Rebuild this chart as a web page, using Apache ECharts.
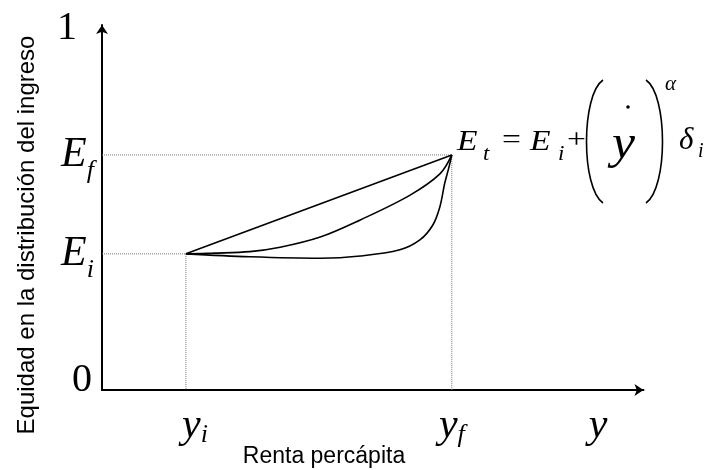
<!DOCTYPE html>
<html>
<head>
<meta charset="utf-8">
<style>html,body{margin:0;padding:0;background:#fff;}#c{width:712px;height:470px;}</style>
<script src="https://cdn.jsdelivr.net/npm/echarts@6/dist/echarts.min.js"></script>
</head>
<body>
<div id="c"></div>
<script>
// ---- data ----
var Ei = 0.373, Ef = 0.644;      // equity levels (initial, final)
var yi = 1.55, yf = 6.46;        // per-capita income (initial, final)
var yLabelPos = 9.16;            // position of generic "y" label on x axis

var straightX = [1.55, 6.46];
var straightY = [0.373, 0.644];
var middleX = [1.55, 2.05, 2.73, 3.29, 4.03, 4.77, 5.69, 6.24, 6.46];
var middleY = [0.373, 0.375, 0.379, 0.391, 0.419, 0.466, 0.534, 0.592, 0.644];
var bottomX = [1.55, 2.73, 4.03, 4.77, 5.50, 5.87, 6.11, 6.24, 6.33, 6.41, 6.46];
var bottomY = [0.373, 0.365, 0.361, 0.367, 0.384, 0.411, 0.452, 0.502, 0.567, 0.612, 0.644];

var yTickValues = [0, Ei, Ef, 1];
var yTickMain = ['0', 'E', 'E', '1'];
var yTickSub = ['', 'i', 'f', ''];
var xTickValues = [yi, yf, yLabelPos];
var xTickMain = ['y', 'y', 'y'];
var xTickSub = ['i', 'f', ''];

var yTitle = 'Equidad en la distribución del ingreso';
var xTitle = 'Renta percápita';

function zip(a, b) { return a.map(function (v, i) { return [v, b[i]]; }); }
function findIdx(arr, v) { var best = 0; for (var i = 0; i < arr.length; i++) { if (Math.abs(arr[i] - v) < Math.abs(arr[best] - v)) best = i; } return best; }

var SERIF = '"Liberation Serif", "Times New Roman", serif';
var SANS = '"Liberation Sans", Arial, sans-serif';

var chart = echarts.init(document.getElementById('c'), null, { renderer: 'canvas' });

var dotted = { color: '#777', width: 1, type: [1, 1] };
var curve = { color: '#000', width: 1.6 };

function ftext(x, y, txt, size, italic, sx) {
  return { type: 'text', x: x, y: y, scaleX: sx || 1,
    style: { text: txt, fontFamily: SERIF, fontSize: size, fontStyle: italic ? 'italic' : 'normal',
      fill: '#000', textAlign: 'left', textVerticalAlign: 'middle' } };
}

var option = {
  backgroundColor: '#fff',
  animation: false,
  grid: { left: 102, right: 68.5, top: 25, bottom: 80 },
  xAxis: {
    type: 'value', min: 0, max: 10,
    splitLine: { show: false },
    axisTick: { show: false },
    axisLine: { lineStyle: { color: '#000', width: 2 }, symbol: ['none', 'arrow'], symbolSize: [9, 9] },
    axisLabel: {
      customValues: xTickValues,
      margin: 36,
      verticalAlign: 'middle',
      formatter: function (v) {
        var i = findIdx(xTickValues, v);
        var main = i === 0 ? '{mi|' + xTickMain[i] + '}' : '{m|' + xTickMain[i] + '}';
        return main + (xTickSub[i] ? '{s|' + xTickSub[i] + '}' : '');
      },
      rich: {
        m: { fontFamily: SERIF, fontStyle: 'italic', fontSize: 42, lineHeight: 42, color: '#000' },
        mi: { fontFamily: SERIF, fontStyle: 'italic', fontSize: 42, lineHeight: 42, color: '#000', padding: [0, 0, 0, 18] },
        s: { fontFamily: SERIF, fontStyle: 'italic', fontSize: 26, lineHeight: 26, color: '#000', padding: [18, 0, 0, 0] }
      }
    }
  },
  yAxis: {
    type: 'value', min: 0, max: 1,
    splitLine: { show: false },
    axisTick: { show: false },
    axisLine: { lineStyle: { color: '#000', width: 2 }, symbol: ['none', 'arrow'], symbolSize: [9, 9] },
    axisLabel: {
      customValues: yTickValues,
      margin: 8,
      formatter: function (v) {
        var i = findIdx(yTickValues, v);
        if (yTickSub[i]) return '{E|' + yTickMain[i] + '}{s|' + yTickSub[i] + '}';
        return (i === 0 ? '{d0|' : '{d1|') + yTickMain[i] + '}';
      },
      rich: {
        E: { fontFamily: SERIF, fontStyle: 'italic', fontSize: 42, lineHeight: 42, color: '#000' },
        s: { fontFamily: SERIF, fontStyle: 'italic', fontSize: 26, lineHeight: 26, color: '#000', padding: [32, 0, 0, 0] },
        d0: { fontFamily: SERIF, fontSize: 40, lineHeight: 40, color: '#000', padding: [0, 2, 20, 0] },
        d1: { fontFamily: SERIF, fontSize: 40, lineHeight: 40, color: '#000', padding: [6, 17, 0, 0] }
      }
    }
  },
  series: [
    { type: 'line', data: [[0, Ei], [yi, Ei], [yi, 0]], symbol: 'none', lineStyle: dotted, z: 1 },
    { type: 'line', data: [[0, Ef], [yf, Ef], [yf, 0]], symbol: 'none', lineStyle: dotted, z: 1 },
    { type: 'line', data: zip(straightX, straightY), symbol: 'none', lineStyle: curve, z: 3 },
    { type: 'line', data: zip(middleX, middleY), symbol: 'none', smooth: 0.35, lineStyle: curve, z: 3 },
    { type: 'line', data: zip(bottomX, bottomY), symbol: 'none', smooth: 0.35, lineStyle: curve, z: 3 }
  ],
  graphic: [
    { type: 'text', x: 27, y: 235, rotation: Math.PI / 2,
      style: { text: yTitle, fontFamily: SANS, fontSize: 24, fill: '#000', textAlign: 'center', textVerticalAlign: 'middle' } },
    { type: 'text', x: 324, y: 457,
      style: { text: xTitle, fontFamily: SANS, fontSize: 23, fill: '#000', textAlign: 'center', textVerticalAlign: 'middle' } },
    // formula  E_t = E_i + ( y-dot )^alpha delta_i
    ftext(457, 142, 'E', 30, true, 1.12),
    ftext(483, 155, 't', 20, true, 1.15),
    ftext(502, 141, '=', 28, false, 1.2),
    ftext(530, 142, 'E', 30, true, 1.12),
    ftext(558, 155, 'i', 20, true, 1.15),
    ftext(567, 141, '+', 28, false, 1.2),
    { type: 'bezierCurve', shape: { x1: 603, y1: 80, cpx1: 581, cpy1: 95, cpx2: 581, cpy2: 188, x2: 603, y2: 203 }, style: { stroke: '#000', lineWidth: 1.6, fill: null } },
    ftext(612, 145, 'y', 48, true, 1.08),
    { type: 'circle', shape: { cx: 628, cy: 107, r: 1.8 }, style: { fill: '#000' } },
    { type: 'bezierCurve', shape: { x1: 646, y1: 80, cpx1: 668, cpy1: 95, cpx2: 668, cpy2: 188, x2: 646, y2: 203 }, style: { stroke: '#000', lineWidth: 1.6, fill: null } },
    ftext(665, 84, 'α', 21, true, 1),
    ftext(679, 141, 'δ', 31, true, 1),
    ftext(698, 152, 'i', 20, true, 1)
  ]
};
chart.setOption(option);
</script>
</body>
</html>
